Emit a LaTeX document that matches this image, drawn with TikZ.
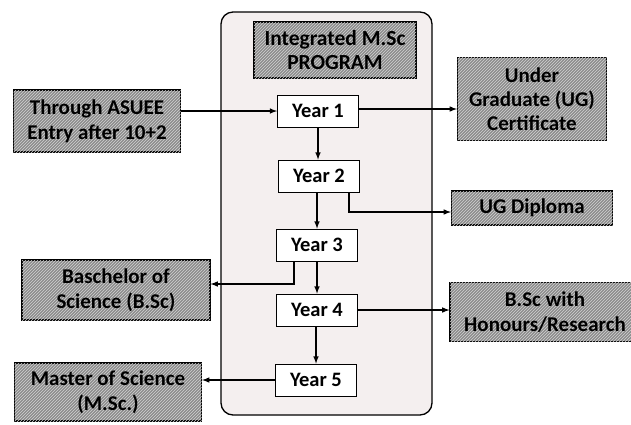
\documentclass[tikz,border=0pt]{standalone}
\usepackage{fontspec}
\setmainfont{Carlito}
\usetikzlibrary{patterns}
\definecolor{boxgrey}{RGB}{140,140,140}
\definecolor{framebg}{RGB}{244,239,239}
\tikzset{
	greybox/.style={draw, line width=1.1pt, fill=boxgrey, postaction={pattern=north east lines, pattern color=gray!35}, align=center, inner sep=1pt, font=\bfseries\fontsize{21}{25}\selectfont},
	yearbox/.style={draw, thick, fill=white, minimum width=81pt, minimum height=32pt, font=\bfseries\fontsize{20.5}{23}\selectfont},
	link/.style={line width=1.5pt, -latex}
}
\begin{document}
\begin{tikzpicture}[x=1pt,y=-1pt]
				\useasboundingbox (0,0) rectangle (631,424);
				\draw [line width=1.3pt, rounded corners=12pt, fill=framebg] (221,12) rectangle (432,415);
				\node [greybox, minimum width=162pt, minimum height=56pt, font=\bfseries\fontsize{21.5}{24}\selectfont] (title) at (335,50) {Integrated M.Sc\\PROGRAM};
				\node [yearbox] (y1) at (318,111) {Year 1};
				\node [yearbox] (y2) at (319,176) {Year 2};
				\node [yearbox] (y3) at (317,245) {Year 3};
				\node [yearbox] (y4) at (317,310) {Year 4};
				\node [yearbox] (y5) at (316,380) {Year 5};
				\node [greybox, minimum width=167pt, minimum height=62pt] (entry) at (97,121) {Through ASUEE\\Entry after 10+2};
				\node [greybox, minimum width=149pt, minimum height=83pt, font=\bfseries\fontsize{21}{24}\selectfont] (ugc) at (532,99) {Under\\Graduate (UG)\\Certificate};
				\node [greybox, minimum width=161pt, minimum height=34pt] (ugd) at (532,208) {UG Diploma};
				\node [greybox, minimum width=188pt, minimum height=60pt] (bsc) at (116,290) {Baschelor of\\Science (B.Sc)};
				\node [greybox, minimum width=190pt, minimum height=59pt] (bsch) at (545,312) {B.Sc with\\Honours/Research};
				\node [greybox, minimum width=187pt, minimum height=58pt] (msc) at (108,392) {Master of Science\\(M.Sc.)};
				\draw [link] (entry.east |- y1.west) -- (y1.west);
				\draw [link] ([yshift=2pt]y1.east) -- ([yshift=2pt]y1.east -| ugc.west);
				\draw [link] (y1.south) -- (y1.south |- y2.north);
				\draw [link] (y2.south -| y3.north) -- (y3.north);
				\draw [link] (y3.south) -- (y3.south |- y4.north);
				\draw [link] (y4.south -| y5.north) -- (y5.north);
				\draw [link] ([xshift=-11pt]y2.south east) |- ([yshift=-4pt]ugd.west);
				\draw [link] ([xshift=18pt]y3.south west) |- ([yshift=6pt]bsc.east);
				\draw [link] (y4.east) -- (y4.east -| bsch.west);
				\draw [link] (y5.west) -- (y5.west -| msc.east);
			\end{tikzpicture}
\end{document}
